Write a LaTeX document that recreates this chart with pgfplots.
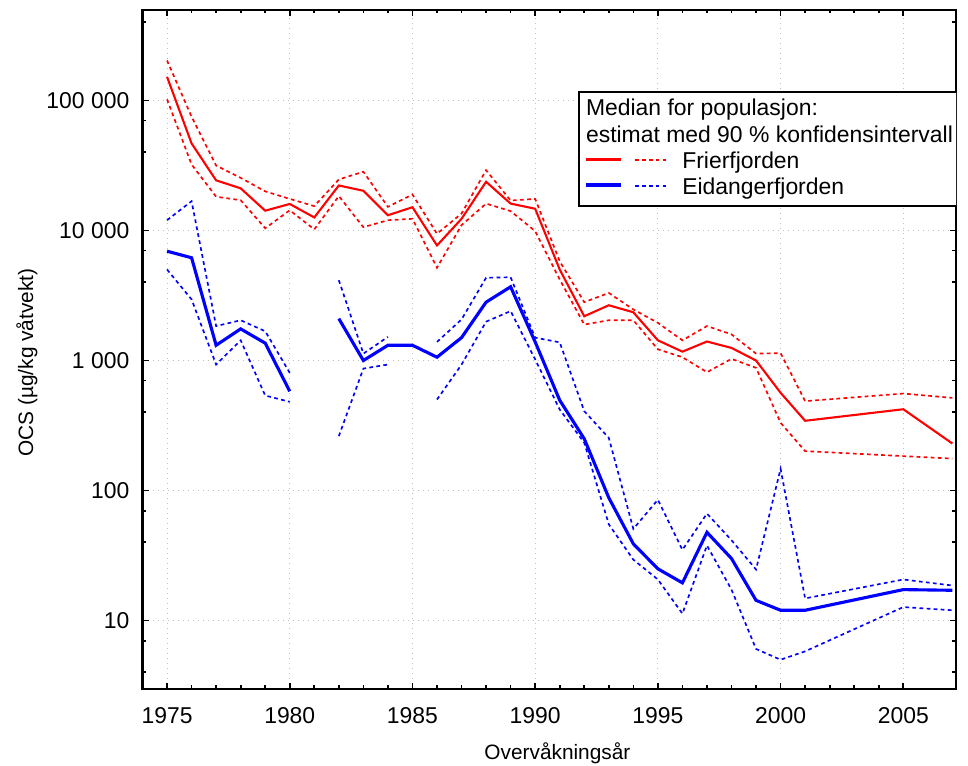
\documentclass[border=0pt]{standalone}
\usepackage{fontspec}
\setmainfont{Liberation Sans}
\usepackage{pgfplots}
\pgfplotsset{compat=1.18}
\usepackage{pgfplotstable}

% legend samples
\newcommand\solidsample[2]{\textcolor{#1}{\rule[3.6pt]{16.8pt}{#2}}}
\newcommand\dsh[1]{\textcolor{#1}{\rule[3.6pt]{1.8pt}{0.8pt}}}
\newcommand\dotsample[1]{\dsh{#1}\hspace{1.5pt}\dsh{#1}\hspace{1.5pt}\dsh{#1}\hspace{1.5pt}\dsh{#1}\hspace{1.5pt}\dsh{#1}}

\pgfplotstableread{
year med lo hi
1975 152000 102000 203000
1976 46700 32200 75000
1977 24300 18200 31600
1978 21100 17100 25400
1979 14200 10400 20000
1980 16000 14300 17500
1981 12600 10200 15400
1982 22200 18400 24700
1983 20200 10600 28300
1984 13100 12000 15200
1985 15100 12300 18900
1986 7670 5170 9440
1987 12300 11000 13500
1988 23700 16100 29100
1989 16100 14100 17000
1990 14700 9890 17500
1991 5010 4200 5800
1992 2190 1890 2810
1993 2660 2040 3310
1994 2350 2040 2470
1995 1430 1220 1950
1996 1170 1060 1430
1997 1400 813 1840
1998 1250 1030 1590
1999 1000 879 1130
2000 565 332 1140
2001 344 201 487
2005 422 184 557
2007 230 176 516
}\frier

\pgfplotstableread{
year med lo hi
1975 6930 5010 12000
1976 6170 2950 16800
1977 1310 931 1840
1978 1750 1430 2040
1979 1360 538 1680
1980 580 481 804
1981 nan nan nan
1982 2100 262 4150
1983 1000 867 1130
1984 1310 931 1520
1985 1310 nan nan
1986 1060 501 1390
1987 1500 930 2070
1988 2810 1990 4330
1989 3690 2400 4370
1990 1390 1020 1500
1991 495 420 1380
1992 250 233 408
1993 88 55 254
1994 38.9 29.4 50.7
1995 25 20.7 85
1996 19.5 11.3 35
1997 47.7 37.8 66.5
1998 30 17.3 41.5
1999 14.3 6.05 24.7
2000 12 5.0 147
2001 12 5.8 14.8
2005 17.3 12.7 20.7
2007 17.1 12 18.6
}\eidanger

\begin{document}
\begin{tikzpicture}
\begin{axis}[
    scale only axis,
    width=390.5pt, height=325.9pt,
    xmin=1974, xmax=2007.15,
    ymode=log, ymin=3, ymax=5e5,
    xtick={1975,1980,...,2005},
    minor x tick num=4,
    ytick={10,100,1000,10000,100000},
    yticklabels={10,100,1 000,10 000,100 000},
    minor ytick={4,7,40,70,400,700,4000,7000,40000,70000,400000},
    /pgf/number format/assume math mode=true,
    xticklabel style={/pgf/number format/1000 sep=, yshift=-5.6pt},
    yticklabel style={xshift=-2.8pt},
    tick label style={font=\fontsize{11}{13}\selectfont},
    label style={font=\fontsize{11}{13}\selectfont},
    tick align=inside,
    major tick length=2.9pt, minor tick length=1.8pt,
    every tick/.style={black, line width=0.8pt},
    axis line style={line width=1pt},
    grid=major,
    major grid style={black!25, dotted, line width=0.5pt},
    unbounded coords=jump,
    xlabel={Overvåkningsår},
    ylabel={OCS (µg/kg våtvekt)},
    every axis x label/.style={at={(axis description cs:0.51,-0.095)}, anchor=center},
    every axis y label/.style={at={(axis description cs:-0.142,0.48)}, rotate=90, anchor=center},
]
\addplot[red, line width=1pt] table[x=year, y=med] {\frier};
\addplot[red, line width=0.8pt, dash pattern=on 1.8pt off 1.6pt] table[x=year, y=hi] {\frier};
\addplot[red, line width=0.8pt, dash pattern=on 1.8pt off 1.6pt] table[x=year, y=lo] {\frier};
\addplot[blue, line width=1.5pt] table[x=year, y=med] {\eidanger};
\addplot[blue, line width=0.8pt, dash pattern=on 1.8pt off 1.6pt] table[x=year, y=hi] {\eidanger};
\addplot[blue, line width=0.8pt, dash pattern=on 1.8pt off 1.6pt] table[x=year, y=lo] {\eidanger};

\node[draw, line width=1pt, fill=white, anchor=north east, inner xsep=3.4pt, inner ysep=3.5pt,
      xshift=2.4pt, align=left, font=\fontsize{11}{12.5}\selectfont] at (rel axis cs:1,0.88)
  {Median for populasjon:\\
   estimat med 90 \% konfidensintervall\\
   \solidsample{red}{1pt}\hspace{6.7pt}\dotsample{red}\hspace{7.7pt}Frierfjorden\\
   \solidsample{blue}{1.5pt}\hspace{6.7pt}\dotsample{blue}\hspace{7.7pt}Eidangerfjorden};
\coordinate (ll) at (rel axis cs:0,0);
\end{axis}
\pgfresetboundingbox
\path ([shift={(-68.4pt,-36.7pt)}]ll) rectangle ++(464.64pt,367.2pt);
\end{tikzpicture}
\end{document}
